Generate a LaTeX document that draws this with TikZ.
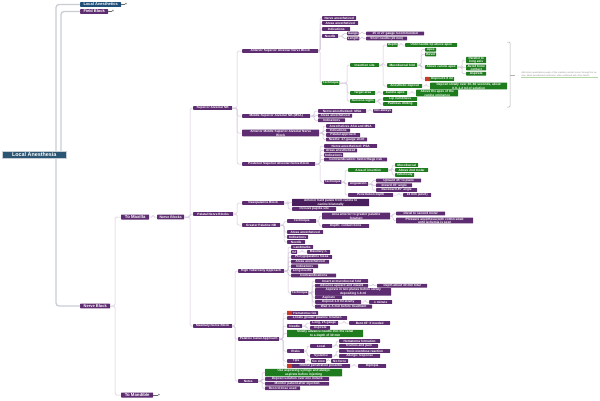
\documentclass[tikz,border=0pt]{standalone}
\usepackage{fontspec}
\setmainfont{Liberation Sans}
\usetikzlibrary{calc}
\definecolor{purp}{HTML}{5E2C70}
\definecolor{dpurp}{HTML}{4A1E5C}
\definecolor{grn}{HTML}{1E7B1E}
\definecolor{blu}{HTML}{1F4E79}
\definecolor{rootc}{HTML}{2B5573}
\definecolor{lnk}{HTML}{D3C6DA}
\definecolor{rlnk}{HTML}{C9CDD4}
\definecolor{redc}{HTML}{C83A2A}
\definecolor{notec}{HTML}{8A8A8A}
\definecolor{notel}{HTML}{B5D6A7}
\newcommand\fsA{\bfseries\fontsize{3.2}{2.9}\selectfont}
\newcommand\fsB{\bfseries\fontsize{4}{4.4}\selectfont}
\newcommand\fsC{\bfseries\fontsize{4.3}{4.6}\selectfont}
\newcommand\fsR{\bfseries\fontsize{5.4}{6}\selectfont}
\newcommand\cnxs[3]{\foreach \cc in {#3}{\draw[cn] (#1.east) -| ($(\cc.west)+(-#2,0)$) -- (\cc.west);}}
\begin{document}
\begin{tikzpicture}[x=1pt,y=-1pt,
 box/.style={anchor=west, text=white, font=\fsA, inner xsep=0.7pt, inner ysep=0.25pt, minimum height=3.8pt, rounded corners=0.5pt, align=center},
 pb/.style={box, fill=purp},
 gb/.style={box, fill=grn},
 db/.style={box, fill=dpurp},
 bb/.style={box, fill=blu},
 lv1/.style={font=\fsB, minimum height=4.6pt},
 lv2/.style={font=\fsC, minimum height=5pt},
 cn/.style={draw=lnk, line width=0.5pt, rounded corners=1.5pt},
 rc/.style={draw=rlnk, line width=1.3pt, rounded corners=3pt},
 plus/.style={text=black!70, font=\bfseries\fontsize{4}{4}\selectfont, inner sep=0pt},
 note/.style={anchor=west, text=notec, font=\fontsize{2.2}{2.6}\selectfont, text width=76pt, align=left, inner sep=0.3pt}]
\fill[white] (0,0) rectangle (600,400);
\useasboundingbox (0,0) rectangle (600,400);

% root connectors
\coordinate (r1) at (56,152);
\coordinate (r2) at (61,152);
\coordinate (r3) at (56,158);

% level 1
\node[bb, lv1, minimum width=41pt] (la) at (80,4.5) {Local Anesthetics};
\node[pb, lv1, minimum width=28pt] (fb) at (80,11.5) {Field Block};
\node[pb, lv1, minimum width=30pt] (nb) at (80,306) {Nerve Block};
\draw[rc] (r1) |- (la.west);
\draw[rc] (r2) |- (fb.west);
\draw[rc] (r3) |- (nb.west);
\node[anchor=west, fill=rootc, draw=rlnk, line width=0.6pt, text=white, font=\fsR, minimum width=64pt, minimum height=7pt, inner sep=0.5pt] (root) at (2,155) {Local Anesthesia};

\node[plus] (i1) at (126,4.5) {+};
\node[plus] (i2) at (113,11.5) {+};
\draw[draw=black!60, line width=0.4pt] (la.east) -- (i1.west);
\draw[draw=black!60, line width=0.4pt] (fb.east) -- (i2.west);

% level 2,3
\node[pb, lv2, minimum width=28pt] (tmx) at (121,217) {To Maxilla};
\node[pb, lv2, minimum width=32pt] (tmd) at (121,395) {To Mandible};
\node[plus] (i3) at (159,395) {+};
\draw[draw=black!60, line width=0.4pt] (tmd.east) -- (i3.west);
\node[pb, lv1, font=\bfseries\fontsize{3.5}{3.8}\selectfont, minimum width=27pt] (nbs) at (157,217) {Nerve Blocks};

% level 4
\node[pb, minimum width=39pt] (S) at (193,108) {Superior Alveolar NB};
\node[pb, minimum width=40pt] (B) at (193,214) {Palatal Nerve Blocks};
\node[pb, minimum width=39pt] (C) at (193,326) {Maxillary Nerve Block};

% superior alveolar
\node[pb, minimum width=76pt] (a1) at (242,51) {Anterior Superior Alveolar Nerve Block};
\node[pb, minimum width=68pt] (a2) at (242,116) {Middle Superior Alveolar NB (MSA)};
\node[pb, minimum width=77pt] (a3) at (242,133) {Anterior Middle Superior Alveolar Nerve\\Block};
\node[pb, minimum width=73pt] (a4) at (242,164) {Posterior Superior Alveolar Nerve Block};

\node[pb, minimum width=34pt] (a11) at (322,18) {Nerve anesthetized};
\node[pb, minimum width=36pt] (a12) at (322,23) {Areas anesthetized};
\node[pb, minimum width=28pt] (a13) at (322,29) {Indications};
\node[pb, minimum width=16pt] (a14) at (322,36) {Needle};
\node[pb, minimum width=11pt] (a141) at (347,33.5) {Gauge};
\node[pb, minimum width=11pt] (a142) at (347,38.5) {Length};
\node[pb, minimum width=58pt] (a1411) at (366,33.5) {25 or 27 gauge recommended};
\node[pb, minimum width=41pt] (a1421) at (366,38.5) {Short needle (20 mm)};
\node[gb, minimum width=16pt] (a15) at (322,83) {Technique};

\node[gb, minimum width=29pt] (g1) at (350,65) {Insertion site};
\node[gb, minimum width=9pt] (g11) at (387,45) {Depth};
\node[gb, minimum width=52pt] (g111) at (405,45) {Until needle tip above apex};
\node[gb, minimum width=30pt] (g12) at (387,65) {Mucobuccal fold};
\node[gb, minimum width=11pt] (g121) at (425,49.7) {Apex};
\node[gb, minimum width=11pt] (g122) at (425,54.4) {Bevel};
\node[gb, minimum width=32pt] (g123) at (425,67) {Above canine apex};
\node[gb, minimum width=20pt] (g1231) at (466,60) {Parallel to\\long axis};
\node[gb, minimum width=20pt] (g1232) at (466,67.5) {Avoid bone\\contact};
\node[gb, minimum width=20pt] (g1233) at (466,73.7) {Aspirate};
\node[gb, minimum width=29pt] (g124) at (425,79) {\hspace*{4.5pt}Deposit 0.9 ml};
\fill[redc, rounded corners=0.4pt] (g124.north west) rectangle ([xshift=5pt]g124.south west);
\node[gb, minimum width=35pt] (g13) at (387,86) {Anesthetic deposit};
\node[gb, minimum width=77pt] (g131) at (430,86) {Deposit slowly over 30--60 seconds, about\\0.9--1.2 ml of solution};
\node[gb, minimum width=25pt] (g2) at (350,93) {Target area};
\node[gb, minimum width=24pt] (g21) at (383,93) {Canine apex};
\node[gb, minimum width=42pt] (g211) at (416,93) {Above the apex of the\\canine eminence};
\node[gb, minimum width=25pt] (g3) at (350,101) {Success signs};
\node[gb, minimum width=34pt] (g31) at (383,99) {Lip numbness};
\node[gb, minimum width=34pt] (g32) at (383,104) {Painless drilling};

% summary bracket and note
\coordinate (bt) at (507,42);
\coordinate (bb) at (507,107);
\coordinate (bm) at (515,75);
\draw[draw=black!30, line width=0.5pt, rounded corners=1pt] (bt) -- (510,42) -- (510,107) -- (bb);
\draw[draw=black!30, line width=0.5pt] (510,75) -- (bm);
\node[note] (nt) at (521,74.5) {ASA block anesthetizes pulps of the maxillary central incisor through the canine, labial periodontium and bone; often combined with other blocks.};
\draw[draw=notel, line width=0.8pt] (nt.south west) -- (nt.south east);

\node[pb, minimum width=48pt] (a21) at (318,111) {Nerve anesthetized: MSA};
\node[pb, minimum width=19pt] (a211) at (373,111) {Not always};
\node[pb, minimum width=34pt] (a22) at (318,115.7) {Areas anesthetized};
\node[pb, minimum width=27pt] (a23) at (318,120.3) {Indications};

\node[pb, minimum width=49pt] (a31) at (326,126) {Anesthetizes ASA and MSA};
\node[pb, minimum width=24pt] (a32) at (326,130.5) {Indications};
\node[pb, minimum width=34pt] (a33) at (326,135) {Palatal approach};
\node[pb, minimum width=41pt] (a34) at (326,139.5) {Needle: 27-gauge short};

\node[pb, minimum width=53pt] (a41) at (324,146) {Nerve anesthetized: PSA};
\node[pb, minimum width=33pt] (a42) at (324,150.5) {Areas anesthetized};
\node[pb, minimum width=19pt] (a43) at (324,155) {Indications};
\node[pb, minimum width=63pt] (a44) at (324,159.5) {Contraindication: hemorrhage risk};
\node[pb, minimum width=17pt] (a45) at (324,182) {Technique};
\node[gb, minimum width=40pt] (a451) at (348,170) {Area of insertion};
\node[gb, minimum width=23pt] (a4511) at (395,165) {Mucobuccal};
\node[gb, minimum width=33pt] (a4512) at (395,170) {Above 2nd molar};
\node[gb, minimum width=19pt] (a4513) at (395,175) {Tuberosity};
\node[pb, minimum width=20pt] (a452) at (348,184) {Angulation};
\node[pb, minimum width=45pt] (a4521) at (376,180.5) {Upward 45° to plane};
\node[pb, minimum width=36pt] (a4522) at (376,185.3) {Inward 45° angle};
\node[pb, minimum width=41pt] (a4523) at (376,190) {Backward 45° angle};
\node[pb, minimum width=45pt] (a453) at (348,195) {Penetration depth};
\node[pb, minimum width=28pt] (a4531) at (403,195) {16 mm (adult)};

% palatal
\node[pb, minimum width=42pt] (b1) at (242,203) {Nasopalatine Block};
\node[db, minimum width=77pt] (b11) at (292,202.5) {Anterior hard palate from canine to\\canine bilaterally};
\node[pb, minimum width=44pt] (b12) at (292,209) {Incisive papilla site};
\node[pb, minimum width=38pt] (b2) at (242,225) {Greater Palatine NB};
\node[pb, minimum width=29pt] (b21) at (287,221) {Technique};
\node[pb, minimum width=68pt] (b211) at (322,216) {Area anterior to greater palatine\\foramen};
\node[pb, minimum width=49pt] (b2111) at (396,213.5) {Distal to second molar};
\node[pb, minimum width=77pt] (b2112) at (396,220.5) {Pressure anesthesia with cotton swab\\until ischemia is seen};
\node[pb, minimum width=47pt] (b212) at (322,226) {Depth: contact bone};
\node[pb, minimum width=36pt] (b22) at (287,232) {Areas anesthetized};
\node[pb, minimum width=21pt] (b23) at (287,237) {Indications};
\node[pb, minimum width=18pt] (b24) at (287,242) {Needle};

% maxillary nerve block
\node[pb, minimum width=46pt] (c1) at (238,271) {High Tuberosity Approach};
\node[pb, minimum width=22pt] (c11) at (291,247) {Landmarks};
\node[pb, minimum width=6pt] (c12) at (291,252) {V2};
\node[pb, minimum width=23pt] (c121) at (307,252) {Maxillary n.};
\node[pb, minimum width=41pt] (c13) at (291,257) {Pterygopalatine fossa};
\node[pb, minimum width=38pt] (c14) at (291,261.7) {Areas anesthetized};
\node[pb, minimum width=27pt] (c15) at (291,266.3) {Indications};
\node[pb, minimum width=22pt] (c16) at (291,271) {Long needle};
\node[pb, minimum width=45pt] (c17) at (291,275.5) {Contraindications};
\node[pb, minimum width=17pt] (c18) at (291,293) {Technique};
\node[pb, minimum width=53pt] (c181) at (315,281) {Insert at mucobuccal fold};
\node[pb, minimum width=53pt] (c182) at (315,285.7) {Advance upward and inward};
\node[pb, minimum width=50pt] (c1821) at (377,285.7) {Depth about 30 mm total};
\node[pb, minimum width=76pt] (c183) at (315,291.8) {Aspirate in two planes before slowly\\depositing 1.8 ml};
\node[pb, minimum width=27pt] (c184) at (315,297.3) {Aspirate};
\node[pb, minimum width=46pt] (c185) at (315,302) {Deposit 1.8 ml slowly};
\node[pb, minimum width=23pt] (c1851) at (369,302) {1 minute};
\node[pb, minimum width=57pt] (c186) at (315,306.6) {Wait 3--5 min before treatment};

\node[pb, minimum width=41pt] (c2) at (238,339) {Palatine Canal Approach};
\node[pb, minimum width=31pt] (c21) at (287,313) {\hspace*{4.5pt}Hematoma risk};
\fill[redc, rounded corners=0.4pt] (c21.north west) rectangle ([xshift=5pt]c21.south west);
\node[pb, minimum width=60pt] (c22) at (287,318) {Locate greater palatine foramen};
\node[pb, minimum width=15pt] (c23) at (287,326) {Needle};
\node[pb, minimum width=28pt] (c231) at (310,323) {Long, 25-gauge};
\node[pb, minimum width=41pt] (c2311) at (349,323) {Bent 45° if needed};
\node[pb, minimum width=20pt] (c232) at (310,328) {Aspirate};
\node[gb, minimum width=76pt] (c24) at (287,333.5) {Slowly advance needle into the canal\\to a depth of 30 mm};
\node[pb, minimum width=17pt] (c25) at (287,351) {Risks};
\node[pb, minimum width=22pt] (c251) at (310,346) {Local};
\node[pb, minimum width=41pt] (c2511) at (339,341) {Hematoma formation};
\node[pb, minimum width=39pt] (c2512) at (339,346) {Trismus and pain};
\node[pb, minimum width=22pt] (c252) at (310,356) {Systemic};
\node[pb, minimum width=51pt] (c2521) at (339,351) {Toxic overdose reaction};
\node[pb, minimum width=41pt] (c2522) at (339,356) {Allergic response};
\node[pb, minimum width=18pt] (c26) at (287,361) {Tips};
\node[pb, minimum width=15pt] (c261) at (311,361) {Go slow};
\node[pb, minimum width=17pt] (c2611) at (331,361) {No force};
\node[pb, minimum width=63pt] (c27) at (287,366) {\hspace*{4.5pt}Orbital penetration possible};
\fill[redc, rounded corners=0.4pt] (c27.north west) rectangle ([xshift=5pt]c27.south west);
\node[pb, minimum width=28pt] (c271) at (358,366) {Diplopia};

\node[pb, minimum width=20pt] (c3) at (238,381) {Notes};
\node[gb, minimum width=77pt] (c31) at (265,372.5) {Use aspirating syringe and always\\aspirate before injecting};
\node[pb, minimum width=64pt] (c32) at (265,379) {Deposit solution over one minute};
\node[pb, minimum width=64pt] (c33) at (265,383.7) {Monitor patient after injection};
\node[pb, minimum width=35pt] (c34) at (265,388.3) {Record dose used};

% connectors
\cnxs{nb}{6}{tmx,tmd}
\cnxs{tmx}{4}{nbs}
\cnxs{nbs}{3}{S,B,C}
\cnxs{S}{5}{a1,a2,a3,a4}
\cnxs{a1}{2}{a11,a12,a13,a14,a15}
\cnxs{a14}{4}{a141,a142}
\cnxs{a141}{4}{a1411}
\cnxs{a142}{4}{a1421}
\cnxs{a15}{3}{g1,g2,g3}
\cnxs{g1}{4}{g11,g12,g13}
\cnxs{g11}{4}{g111}
\cnxs{g12}{4}{g121,g122,g123,g124}
\cnxs{g123}{4}{g1231,g1232,g1233}
\cnxs{g13}{4}{g131}
\cnxs{g2}{4}{g21}
\cnxs{g21}{4}{g211}
\cnxs{g3}{4}{g31,g32}
\cnxs{a2}{4}{a21,a22,a23}
\cnxs{a21}{3}{a211}
\cnxs{a3}{3}{a31,a32,a33,a34}
\cnxs{a4}{4}{a41,a42,a43,a44,a45}
\cnxs{a45}{3}{a451,a452,a453}
\cnxs{a451}{3}{a4511,a4512,a4513}
\cnxs{a452}{4}{a4521,a4522,a4523}
\cnxs{a453}{4}{a4531}
\cnxs{B}{5}{b1,b2}
\cnxs{b1}{4}{b11,b12}
\cnxs{b2}{3}{b21,b22,b23,b24}
\cnxs{b21}{3}{b211,b212}
\cnxs{b211}{3}{b2111,b2112}
\cnxs{C}{3}{c1,c2,c3}
\cnxs{c1}{3}{c11,c12,c13,c14,c15,c16,c17,c18}
\cnxs{c12}{5}{c121}
\cnxs{c18}{3}{c181,c182,c183,c184,c185,c186}
\cnxs{c182}{4}{c1821}
\cnxs{c185}{4}{c1851}
\cnxs{c2}{4}{c21,c22,c23,c24,c25,c26,c27}
\cnxs{c23}{4}{c231,c232}
\cnxs{c231}{5}{c2311}
\cnxs{c25}{3}{c251,c252}
\cnxs{c251}{3}{c2511,c2512}
\cnxs{c252}{3}{c2521,c2522}
\cnxs{c26}{3}{c261}
\cnxs{c261}{2.5}{c2611}
\cnxs{c27}{4}{c271}
\cnxs{c3}{3}{c31,c32,c33,c34}
\end{tikzpicture}
\end{document}
